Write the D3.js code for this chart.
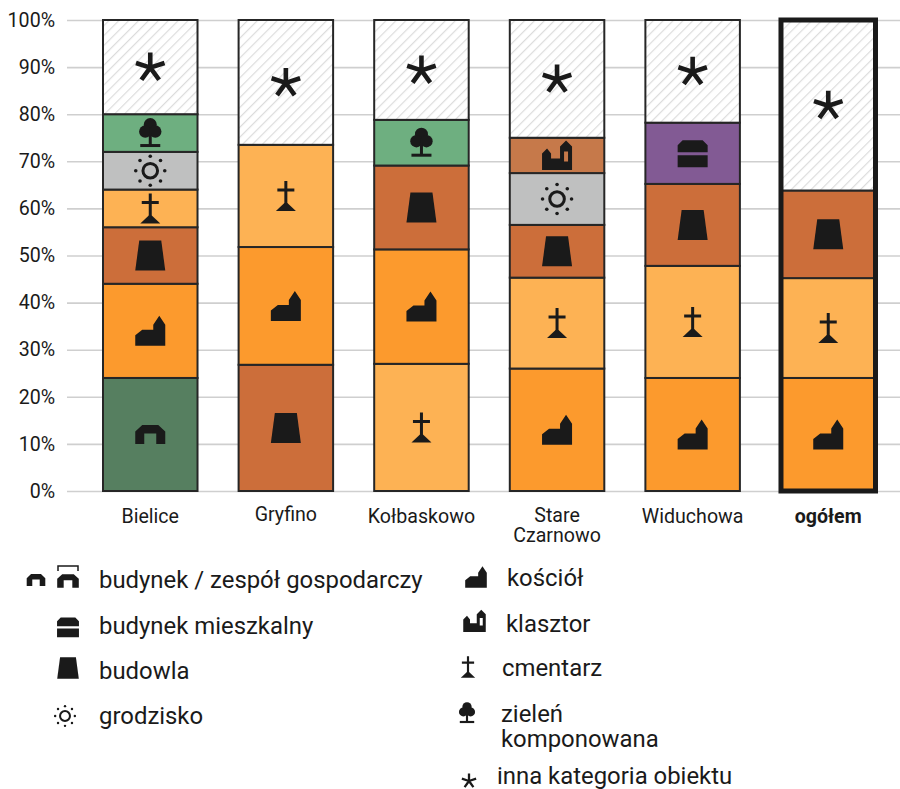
<!DOCTYPE html>
<html><head><meta charset="utf-8">
<script src="https://cdn.jsdelivr.net/npm/d3@7/dist/d3.min.js"></script>
<style>html,body{margin:0;padding:0;background:#fff}svg{display:block;font-family:Roboto,sans-serif}</style>
</head><body><svg id="c" width="900" height="789"></svg>
<script>
const categories = ["Bielice","Gryfino","Kołbaskowo","Stare Czarnowo","Widuchowa","ogółem"];
const yTicks = [0,10,20,30,40,50,60,70,80,90,100];
const keysBielice = ["zespol","kosciol","budowla","cmentarz","grodzisko","zielen","inna"];
const valsBielice = [24,20,12,8,8,8,20];
const keysGryfino = ["budowla","kosciol","cmentarz","inna"];
const valsGryfino = [26.8,25,21.7,26.5];
const keysKolbaskowo = ["cmentarz","kosciol","budowla","zielen","inna"];
const valsKolbaskowo = [27,24.3,17.8,9.7,21.2];
const keysCzarnowo = ["kosciol","cmentarz","budowla","grodzisko","klasztor","inna"];
const valsCzarnowo = [26,19.3,11.2,11,7.5,25];
const keysWiduchowa = ["kosciol","cmentarz","budowla","mieszkalny","inna"];
const valsWiduchowa = [24,23.8,17.4,13,21.8];
const keysOgolem = ["kosciol","cmentarz","budowla","inna"];
const valsOgolem = [24,21.2,18.6,36.2];
const barKeys = [keysBielice,keysGryfino,keysKolbaskowo,keysCzarnowo,keysWiduchowa,keysOgolem];
const barVals = [valsBielice,valsGryfino,valsKolbaskowo,valsCzarnowo,valsWiduchowa,valsOgolem];
const colors = {zespol:"#567f60",kosciol:"#fc9a2d",budowla:"#cc6e3a",cmentarz:"#fdb254",grodzisko:"#bfc0c0",zielen:"#6eaf80",klasztor:"#c6794a",mieszkalny:"#825a94",inna:"url(#hatch)"};
const INK = "#1a1a1a";

const svg = d3.select("#c");
const defs = svg.append("defs");
const pat = defs.append("pattern").attr("id","hatch").attr("patternUnits","userSpaceOnUse")
  .attr("width",7).attr("height",7).attr("patternTransform","rotate(45)");
pat.append("rect").attr("width",7).attr("height",7).attr("fill","#fff");
pat.append("rect").attr("width",1.2).attr("height",7).attr("fill","#dcdcdc");

const y = d3.scaleLinear().domain([0,100]).range([491,20]);
const x = d3.scaleBand().domain(categories).range([67,911.5]).paddingInner(0.303).paddingOuter(0.2655);

// grid + y axis
const yAxis = d3.axisLeft(y).tickValues(yTicks).tickFormat(d=>d+"%").tickSize(-833).tickPadding(12);
const gy = svg.append("g").attr("transform","translate(67,0)").call(yAxis);
gy.select(".domain").remove();
gy.selectAll(".tick line").attr("stroke","#cfcfcf").attr("stroke-width",1.6);
gy.selectAll(".tick text").attr("font-size",19.6).attr("fill","#1a1a1a").attr("font-family","Roboto");

// icons (drawn at 30px nominal box, centred on 0,0)
const iconDraw = {
  zespol:g=>g.append("path").attr("fill",INK).attr("d","M-15,9.5V-3L-8,-9.5H8L15,-3V9.5H6V-1H-6V9.5Z"),
  budowla:g=>g.append("path").attr("fill",INK).attr("d","M-11,-15H11L15,15H-15Z"),
  kosciol:g=>g.append("path").attr("fill",INK).attr("d","M-15,15V4.5L-8,-1H3V-6L9,-15L15,-6V15Z"),
  klasztor:g=>g.append("path").attr("fill",INK).attr("fill-rule","evenodd").attr("d","M-15,14.5V-2L-10,-7L-6,-2V3H3V-9L9,-15L15,-9V14.5ZM7,-4V6H11V-4Z"),
  mieszkalny:g=>g.append("path").attr("fill",INK).attr("d","M-15,-1V-8L-10,-13H10L15,-8V-1ZM-15,2H15V14H-15Z"),
  cmentarz:g=>{g.append("path").attr("fill",INK).attr("d","M-10,15L-1.5,7H1.5L10,15Z");
    g.append("path").attr("stroke",INK).attr("stroke-width",3).attr("fill","none").attr("d","M0,-15V10M-8.5,-6H8.5");},
  zielen:g=>{g.append("circle").attr("cy",-8.5).attr("r",6.5).attr("fill",INK);
    g.append("circle").attr("cx",-5).attr("cy",-1.5).attr("r",6.2).attr("fill",INK);
    g.append("circle").attr("cx",5).attr("cy",-1.5).attr("r",6.2).attr("fill",INK);
    g.append("rect").attr("x",-1.5).attr("y",0).attr("width",3).attr("height",12).attr("fill",INK);
    g.append("rect").attr("x",-10).attr("y",11).attr("width",20).attr("height",3).attr("fill",INK);},
  grodzisko:g=>{g.append("circle").attr("r",7.3).attr("fill","none").attr("stroke",INK).attr("stroke-width",3);
    d3.range(8).forEach(i=>{const a=i*Math.PI/4;g.append("circle").attr("cx",14.5*Math.cos(a)).attr("cy",14.5*Math.sin(a)).attr("r",1.8).attr("fill",INK);});},
  inna:g=>{const a=d3.range(5).map(i=>{const t=-Math.PI/2+i*2*Math.PI/5;return `M0,0L${15*Math.cos(t)},${15*Math.sin(t)}`;}).join("");
    g.append("path").attr("d",a).attr("stroke",INK).attr("stroke-width",4.6).attr("fill","none");}
};
function icon(parent,key,cx,cy,s=1){
  const g=parent.append("g").attr("transform",`translate(${cx},${cy}) scale(${s})`);
  iconDraw[key](g);return g;
}

// bars
categories.forEach((c,i)=>{
  let acc=0;
  const gb=svg.append("g");
  barKeys[i].forEach((k,j)=>{
    const v=barVals[i][j], y0=y(acc), y1=y(acc+v);
    gb.append("rect").attr("x",x(c)).attr("width",x.bandwidth()).attr("y",y1).attr("height",y0-y1)
      .attr("fill",colors[k]).attr("stroke","#262626").attr("stroke-width",2);
    const mid=y(acc+v/2);
    icon(gb,k,x(c)+x.bandwidth()/2,k==="inna"?mid+0.5:mid,1);
    acc+=v;
  });
  if(c==="ogółem"){
    gb.append("rect").attr("x",x(c)).attr("y",y(100)).attr("width",x.bandwidth()).attr("height",y(0)-y(100))
      .attr("fill","none").attr("stroke","#1a1a1a").attr("stroke-width",5);
  }
});

// x labels
const labelDy = {"Gryfino":-2,"Stare Czarnowo":-1};
categories.forEach(c=>{
  const t=svg.append("text").attr("text-anchor","middle").attr("x",x(c)+x.bandwidth()/2).attr("y",523+(labelDy[c]||0))
    .attr("font-size",19.6).attr("fill","#1a1a1a").attr("font-weight",c==="ogółem"?700:400);
  if(c==="Stare Czarnowo"){
    t.append("tspan").attr("x",x(c)+x.bandwidth()/2).text("Stare");
    t.append("tspan").attr("x",x(c)+x.bandwidth()/2).attr("dy",20).text("Czarnowo");
  } else t.text(c);
});

// legend
const L = svg.append("g");
const legendLabels = [
 {k:"zespol",x:36,y:580,s:0.62,tx:99,ty:588,t:["budynek / zespół gospodarczy"]},
 {k:"mieszkalny",x:68,y:627,s:0.73,tx:99,ty:634,t:["budynek mieszkalny"]},
 {k:"budowla",x:68,y:668,s:0.72,tx:99,ty:679,t:["budowla"]},
 {k:"grodzisko",x:65,y:716,s:0.68,tx:99,ty:724,t:["grodzisko"]},
 {k:"kosciol",x:476,y:577,s:0.72,tx:507,ty:586,t:["kościół"]},
 {k:"klasztor",x:474.5,y:621,s:0.75,tx:506,ty:632,t:["klasztor"]},
 {k:"cmentarz",x:468,y:667,s:0.72,tx:502,ty:676,t:["cmentarz"]},
 {k:"zielen",x:467,y:713,s:0.72,tx:501,ty:722,t:["zieleń","komponowana"]},
 {k:"inna",x:469,y:781,s:0.5,tx:497,ty:784,t:["inna kategoria obiektu"]}
];
legendLabels.forEach(d=>{
  icon(L,d.k,d.x,d.y,d.s);
  d.t.forEach((s,i)=>L.append("text").attr("x",d.tx).attr("y",d.ty+i*25).attr("font-size",23.9).attr("fill","#1a1a1a").text(s));
});
icon(L,"zespol",68,581,0.72);
L.append("path").attr("d","M58,571V566H78V571").attr("fill","none").attr("stroke",INK).attr("stroke-width",1.5);
</script></body></html>
